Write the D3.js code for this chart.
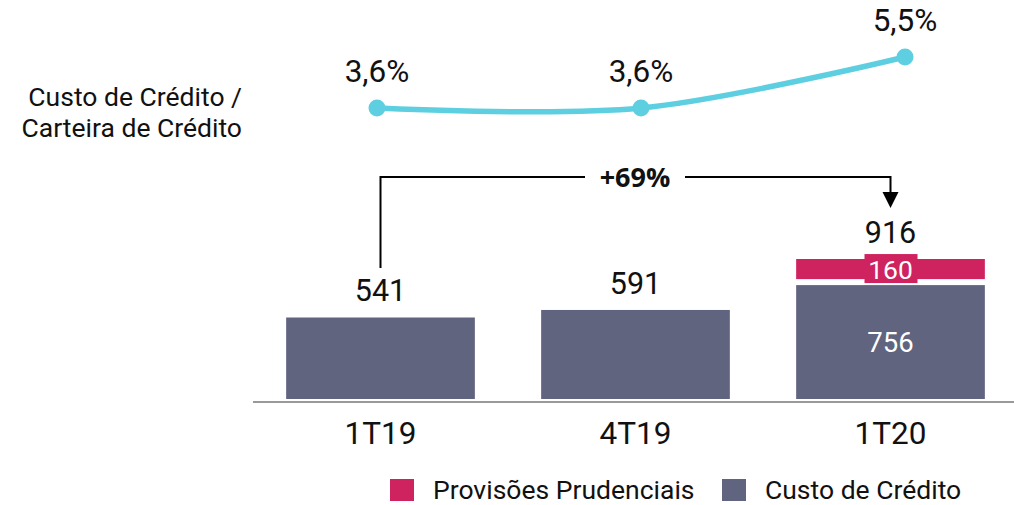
<!DOCTYPE html>
<html>
    <head>
        <style>
        html, body { margin: 0; padding: 0; background: #fff; }
        svg { display: block; font-family: Roboto, sans-serif; }
        </style>
    </head>
    <body>
        <svg width="1014" height="505"></svg>

        <script src="https://cdnjs.cloudflare.com/ajax/libs/d3/7.8.5/d3.min.js"></script>
        <script>
            // data
            const quarters = ["1T19", "4T19", "1T20"];
            const custoCredito = [541, 591, 756];
            const provisoes = [0, 0, 160];
            const ratio = [3.6, 3.6, 5.5];
            const ratioLabels = ["3,6%", "3,6%", "5,5%"];
            const growthLabel = "+69%";

            const grey = "#60647f";
            const red = "#cf2360";
            const cyan = "#5ecfe0";

            const svg = d3.select("svg");
            const baseY = 399;

            let xScale = d3.scaleBand()
                .domain(quarters)
                .range([253, 1018])
                .paddingInner(0.26)
                .paddingOuter(0.13);

            let yScale = d3.scaleLinear()
                .domain([0, 916])
                .range([baseY, 261]);

            let totals = custoCredito.map((d, i) => d + provisoes[i]);

            // grey bars
            svg.selectAll("rect.custo")
                .data(quarters)
                .enter().append("rect")
                .attr("class", "custo")
                .attr("x", d => xScale(d))
                .attr("width", xScale.bandwidth())
                .attr("y", (d, i) => yScale(custoCredito[i]))
                .attr("height", (d, i) => baseY - yScale(custoCredito[i]))
                .attr("fill", grey);

            // red stacked part (with a small white gap)
            svg.selectAll("rect.prov")
                .data(quarters.filter((d, i) => provisoes[i] > 0))
                .enter().append("rect")
                .attr("class", "prov")
                .attr("x", d => xScale(d))
                .attr("width", xScale.bandwidth())
                .attr("y", d => yScale(totals[quarters.indexOf(d)]) - 2)
                .attr("height", d => {
                    let i = quarters.indexOf(d);
                    return yScale(custoCredito[i]) - yScale(totals[i]) - 4;
                })
                .attr("fill", red);

            // label box for 160 and inner 756
            quarters.forEach((q, i) => {
                if (provisoes[i] > 0) {
                    let cx = xScale(q) + xScale.bandwidth() / 2;
                    let mid = (yScale(totals[i]) - 2 + yScale(custoCredito[i]) - 6) / 2;
                    svg.append("rect")
                        .attr("x", cx - 26)
                        .attr("y", mid - 15)
                        .attr("width", 53)
                        .attr("height", 29)
                        .attr("fill", red);
                    svg.append("text")
                        .attr("x", cx)
                        .attr("y", mid + 10)
                        .attr("text-anchor", "middle")
                        .attr("font-size", 26.5)
                        .attr("fill", "#fff")
                        .text(provisoes[i]);
                    svg.append("text")
                        .attr("x", cx)
                        .attr("y", (yScale(custoCredito[i]) + baseY) / 2 + 10)
                        .attr("text-anchor", "middle")
                        .attr("font-size", 27.5)
                        .attr("fill", "#fff")
                        .text(custoCredito[i]);
                }
            });

            // total labels
            svg.selectAll("text.total")
                .data(quarters)
                .enter().append("text")
                .attr("class", "total")
                .attr("x", d => xScale(d) + xScale.bandwidth() / 2)
                .attr("y", (d, i) => yScale(totals[i]) - 16 - (provisoes[i] > 0 ? 2 : 0))
                .attr("text-anchor", "middle")
                .attr("font-size", 30.5)
                .attr("fill", "#111")
                .text((d, i) => totals[i]);

            // baseline + category labels
            let xAxis = d3.axisBottom(xScale).tickSize(0).tickPadding(20);
            let axis = svg.append("g")
                .attr("transform", "translate(0," + (baseY + 3) + ")")
                .call(xAxis);
            axis.select(".domain")
                .attr("d", "M253,0H1014")
                .attr("stroke", "#999")
                .attr("stroke-width", 2);
            axis.selectAll("text")
                .attr("font-size", 31.5)
                .attr("font-family", "Roboto, sans-serif")
                .attr("fill", "#111");

            // ratio line
            let xPoint = d3.scalePoint()
                .domain(quarters)
                .range([377, 905]);
            let yLine = d3.scaleLinear()
                .domain([3.6, 5.5])
                .range([108, 57]);

            let line = d3.line()
                .x((d, i) => xPoint(quarters[i]))
                .y(d => yLine(d))
                .curve(d3.curveCardinal);

            svg.append("path")
                .datum(ratio)
                .attr("d", line)
                .attr("fill", "none")
                .attr("stroke", cyan)
                .attr("stroke-width", 5.5);

            svg.selectAll("circle.pt")
                .data(ratio)
                .enter().append("circle")
                .attr("class", "pt")
                .attr("cx", (d, i) => xPoint(quarters[i]))
                .attr("cy", d => yLine(d))
                .attr("r", 8.5)
                .attr("fill", cyan);

            svg.selectAll("text.pct")
                .data(ratio)
                .enter().append("text")
                .attr("class", "pct")
                .attr("x", (d, i) => xPoint(quarters[i]))
                .attr("y", d => yLine(d) - 26)
                .attr("text-anchor", "middle")
                .attr("font-size", 31.5)
                .attr("fill", "#111")
                .text((d, i) => ratioLabels[i]);

            // left label
            svg.append("text")
                .attr("x", 242)
                .attr("y", 106)
                .attr("text-anchor", "end")
                .attr("font-size", 26.5)
                .attr("fill", "#111")
                .text("Custo de Crédito /");
            svg.append("text")
                .attr("x", 242)
                .attr("y", 137)
                .attr("text-anchor", "end")
                .attr("font-size", 26.5)
                .attr("fill", "#111")
                .text("Carteira de Crédito");

            // growth connector
            let x0 = xScale(quarters[0]) + xScale.bandwidth() / 2;
            let x2 = xScale(quarters[2]) + xScale.bandwidth() / 2;
            let topY = 177;
            svg.append("path")
                .attr("d", "M" + x0 + "," + 268 + "V" + topY + "H585")
                .attr("fill", "none")
                .attr("stroke", "#000")
                .attr("stroke-width", 2);
            svg.append("path")
                .attr("d", "M685," + topY + "H" + x2 + "V194")
                .attr("fill", "none")
                .attr("stroke", "#000")
                .attr("stroke-width", 2);
            svg.append("path")
                .attr("d", "M" + (x2 - 8) + ",192L" + (x2 + 8) + ",192L" + x2 + ",208Z")
                .attr("fill", "#000");
            svg.append("text")
                .attr("x", 635)
                .attr("y", 187)
                .attr("text-anchor", "middle")
                .attr("font-family", "'Open Sans', sans-serif")
                .attr("font-weight", "bold")
                .attr("font-size", 27)
                .attr("fill", "#111")
                .text(growthLabel);

            // legend
            const legendItems = [
                {label: "Provisões Prudenciais", color: red, x: 390},
                {label: "Custo de Crédito", color: grey, x: 722}
            ];
            let lg = svg.selectAll("g.legend")
                .data(legendItems)
                .enter().append("g")
                .attr("class", "legend")
                .attr("transform", d => "translate(" + d.x + ",479)");
            lg.append("rect")
                .attr("width", 24)
                .attr("height", 22)
                .attr("fill", d => d.color);
            lg.append("text")
                .attr("x", 43)
                .attr("y", 20)
                .attr("font-size", 26.5)
                .attr("fill", "#111")
                .text(d => d.label);
        </script>
    </body>
</html>
